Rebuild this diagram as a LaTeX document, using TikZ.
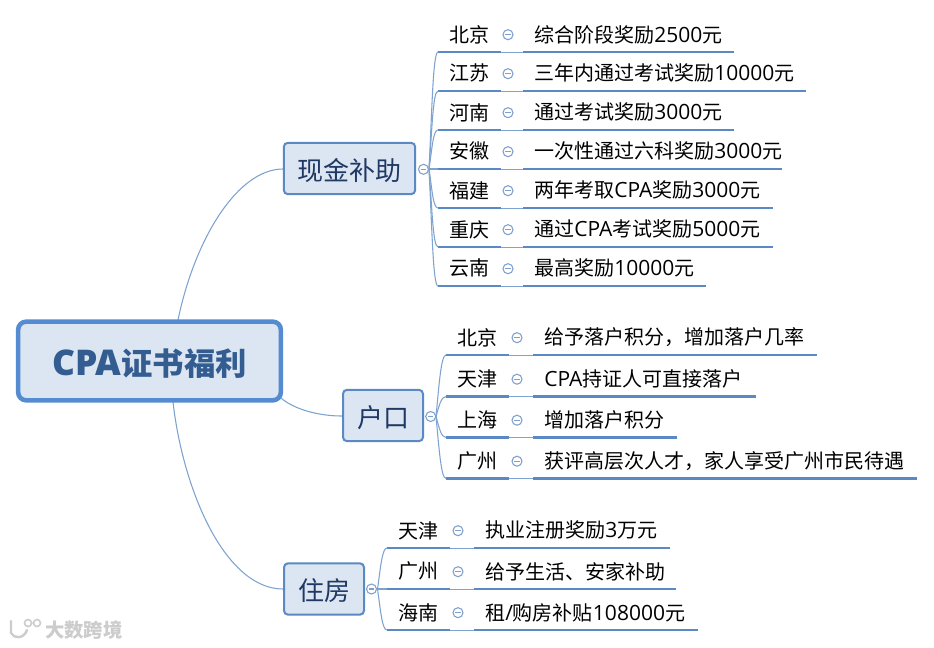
\documentclass[tikz,border=0pt]{standalone}
\usepackage{fontspec}
\setmainfont{Noto Sans CJK SC}
\newfontfamily\latfont[Scale=1.05]{Open Sans}
\newfontfamily\latbold[Scale=1.13]{Open Sans Bold}
\newcommand{\lat}[1]{{\latfont #1}}
\usetikzlibrary{calc}
\definecolor{lineblue}{HTML}{5A89C4}
\definecolor{rootblue}{HTML}{558BD0}
\definecolor{thinblue}{HTML}{7FA3D0}
\definecolor{boxfill}{HTML}{DCE6F3}
\definecolor{roottext}{HTML}{335C91}
\definecolor{maintext}{HTML}{1F3864}
\definecolor{circ}{HTML}{7F9FCC}
\tikzset{
  x=0.75pt,y=-0.75pt,
  rootbox/.style={draw=rootblue,line width=3.4pt,fill=boxfill,rounded corners=6pt,inner sep=0pt,text=roottext,text height=24pt,text depth=2.2pt,font=\fontsize{23.5pt}{26pt}\selectfont\bfseries},
  mainbox/.style={draw=lineblue,line width=1.5pt,fill=boxfill,rounded corners=3pt,inner sep=0pt,text=maintext,text height=20.5pt,text depth=2.7pt,font=\fontsize{19.5pt}{22pt}\selectfont},
  tagtext/.style={inner sep=0pt,anchor=west,text=black,font=\fontsize{15pt}{18pt}\selectfont},
  thick line/.style={draw=lineblue,line width=1.7pt},
  thin line/.style={draw=thinblue,line width=0.7pt},
  curve line/.style={draw=thinblue,line width=0.8pt},
  foldmark/.style={circle,draw=circ,line width=0.8pt,fill=white,minimum size=7.5pt,inner sep=0pt,path picture={\draw[circ,line width=0.8pt] ([xshift=-2pt]path picture bounding box.center)--([xshift=2pt]path picture bounding box.center);}},
}
\newcommand{\leafrow}[9]{%
  \coordinate (#1a) at (#3,#2);
  \coordinate (#1b) at (#3+63,#2);
  \coordinate (#1c) at (#5,#2);
  \coordinate (#1d) at (#6,#2);
  \coordinate (#1k) at ($(#9)!0.5!(#1a)$);
  \draw[thin line] (#1b)--(#1c);
  \draw[thick line] (#1a)--(#1b);
  \draw[thick line] (#1c)--(#1d);
  \node[tagtext] (#1t) at (#3+11,#2-17.6) {#7};
  \node[tagtext] (#1l) at (#5+11,#2-17.6) {#8};
  \node[foldmark] (#1m) at (#4,#2-17.3) {};
  \draw[curve line] (#9) .. controls ($(#9 |- #1k)+(3,0)$) and ($(#1a)+(-5,0)$) .. (#1a);
}
\begin{document}
\begin{tikzpicture}
\useasboundingbox (0,0) rectangle (934,647);
\fill[white] (0,0) rectangle (934,647);
\coordinate (r1) at (178,320);
\coordinate (r2) at (281,398);
\coordinate (r3) at (173,402);
\coordinate (m1w) at (283,169);
\coordinate (m2w) at (342,416);
\coordinate (m3w) at (283,589);
\draw[curve line] (r1) .. controls (195,238) and (238,169) .. (m1w);
\draw[curve line] (r2) .. controls (295,410) and (320,416) .. (m2w);
\draw[curve line] (r3) .. controls (183,490) and (225,589) .. (m3w);
\coordinate (h1) at (429,169);
\coordinate (h2) at (436,416.5);
\coordinate (h3) at (377.5,589);
\leafrow{a1}{52}{438}{508}{523}{734}{北京}{综合阶段奖励\lat{2500}元}{h1}
\leafrow{a2}{91}{438}{508}{523}{806}{江苏}{三年内通过考试奖励\lat{10000}元}{h1}
\leafrow{a3}{130}{438}{508}{523}{734}{河南}{通过考试奖励\lat{3000}元}{h1}
\leafrow{a4}{169}{438}{508}{523}{782}{安徽}{一次性通过六科奖励\lat{3000}元}{h1}
\leafrow{a5}{208}{438}{508}{523}{773}{福建}{两年考取\lat{CPA}奖励\lat{3000}元}{h1}
\leafrow{a6}{247}{438}{508}{523}{773}{重庆}{通过\lat{CPA}考试奖励\lat{5000}元}{h1}
\leafrow{a7}{286}{438}{508}{523}{706}{云南}{最高奖励\lat{10000}元}{h1}
\leafrow{b1}{355}{446}{517}{533}{817}{北京}{给予落户积分，增加落户几率}{h2}
\leafrow{b2}{396.5}{446}{517}{533}{756}{天津}{\lat{CPA}持证人可直接落户}{h2}
\leafrow{b3}{437.5}{446}{517}{533}{677}{上海}{增加落户积分}{h2}
\leafrow{b4}{478.5}{446}{517}{533}{917}{广州}{获评高层次人才，家人享受广州市民待遇}{h2}
\leafrow{c1}{548}{387}{458}{474}{670}{天津}{执业注册奖励\lat{3}万元}{h3}
\leafrow{c2}{589}{387}{458}{474}{676}{广州}{给予生活、安家补助}{h3}
\leafrow{c3}{630}{387}{458}{474}{698}{海南}{租\lat{/}购房补贴\lat{108000}元}{h3}
\node[rootbox,minimum width=197pt,minimum height=59pt] (root) at (149.5,361) {{\latbold CPA}证书福利};
\node[mainbox,minimum width=98.5pt,minimum height=38.5pt] (m1) at (349.5,168.5) {现金补助};
\node[mainbox,minimum width=60pt,minimum height=38.5pt] (m2) at (383,415.5) {户口};
\node[mainbox,minimum width=60pt,minimum height=38.5pt] (m3) at (324,589) {住房};
\node[foldmark] (f1) at (423.5,169.3) {};
\node[foldmark] (f2) at (430.7,416.5) {};
\node[foldmark] (f3) at (371.5,589) {};
\node[inner sep=0pt,anchor=west,text=black!20,font=\fontsize{14.5pt}{16pt}\selectfont\bfseries] (wm) at (45,630) {大数跨境};
\draw[black!20,line width=1.8pt,line cap=round] (11,621) -- (11,633) .. controls (14,639) and (24,639) .. (27,630);
\draw[black!20,line width=1.2pt] (28,623) circle (3.5) (37,623) circle (3.5);
\end{tikzpicture}
\end{document}
